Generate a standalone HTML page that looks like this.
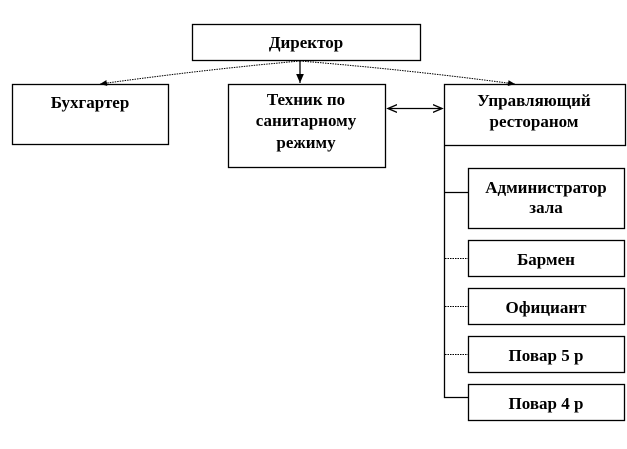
<!DOCTYPE html>
<html><head><meta charset="utf-8"><style>
body{margin:0;background:#fff;width:627px;height:444px;overflow:hidden}
svg text{font-family:"Liberation Serif",serif;font-weight:bold;font-size:17px;text-anchor:middle;fill:#000}
</style></head><body>
<svg width="627" height="444" xmlns="http://www.w3.org/2000/svg">
<defs><marker id="a" markerWidth="8" markerHeight="8" refX="7" refY="4" orient="auto"><path d="M0,1 L7,4 L0,7 Z" fill="#000"/></marker>
<marker id="o" markerWidth="8" markerHeight="8" refX="7" refY="4" orient="auto"><path d="M0,1 L7,4 L0,7" fill="none" stroke="#000" stroke-width="1"/></marker>
<marker id="os" markerWidth="8" markerHeight="8" refX="1" refY="4" orient="auto"><path d="M8,1 L1,4 L8,7" fill="none" stroke="#000" stroke-width="1"/></marker></defs>
<g fill="none" stroke="#000" stroke-width="1.3">
<rect x="192.5" y="24.5" width="228" height="36"/>
<rect x="12.5" y="84.5" width="156" height="60"/>
<rect x="228.5" y="84.5" width="157" height="83"/>
<rect x="444.5" y="84.5" width="181" height="61"/>
<rect x="468.5" y="168.5" width="156" height="60"/>
<rect x="468.5" y="240.5" width="156" height="36"/>
<rect x="468.5" y="288.5" width="156" height="36"/>
<rect x="468.5" y="336.5" width="156" height="36"/>
<rect x="468.5" y="384.5" width="156" height="36"/>
<path d="M444.5 146V397.5H468 M444 192.5H468"/>
<line x1="300" y1="61" x2="300" y2="83" marker-end="url(#a)"/>
<line x1="388" y1="108.5" x2="442" y2="108.5" marker-end="url(#o)" marker-start="url(#os)"/>
</g>
<g fill="none" stroke="#000" stroke-width="1" stroke-dasharray="1.5,1">
<path d="M300 61 Q200 70 100 84" marker-end="url(#a)"/>
<path d="M300 61 Q410 70 515 84" marker-end="url(#a)"/>
<path d="M445 258.5H468 M445 306.5H468 M445 354.5H468"/>
</g>
<text x="306" y="48">Директор</text>
<text x="90" y="108">Бухгартер</text>
<text x="306" y="105">Техник по</text>
<text x="306" y="126">санитарному</text>
<text x="306" y="148">режиму</text>
<text x="534" y="106">Управляющий</text>
<text x="534" y="127">рестораном</text>
<text x="546" y="193">Администратор</text>
<text x="546" y="213">зала</text>
<text x="546" y="265">Бармен</text>
<text x="546" y="313">Официант</text>
<text x="546" y="361">Повар 5 р</text>
<text x="546" y="409">Повар 4 р</text>
</svg>
</body></html>
